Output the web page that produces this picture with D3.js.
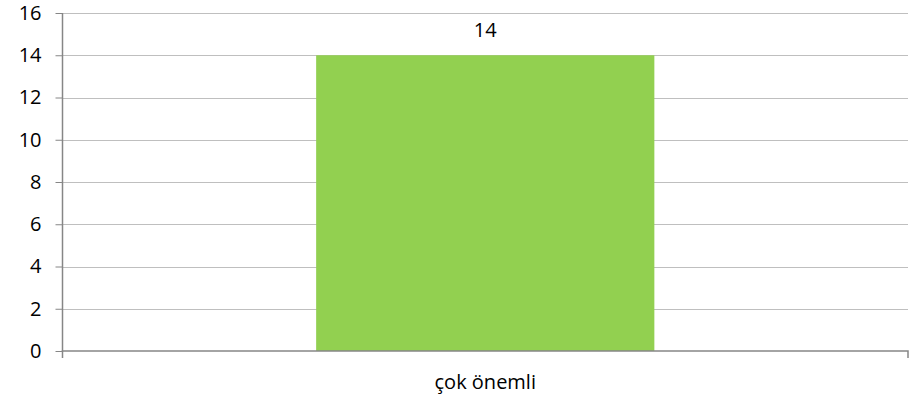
<!DOCTYPE html>
<html>
<head>
<meta charset="utf-8">
<script src="https://cdn.jsdelivr.net/npm/d3@7"></script>
<style>
  body { margin: 0; background: #fff; }
  svg text { font-family: 'Open Sans', sans-serif; font-size: 20px; fill: #000; }
</style>
</head>
<body>
<svg width="919" height="400"></svg>
<script>
'use strict'

const categories = ['çok önemli']
const values = [14]
const yTicks = [0, 2, 4, 6, 8, 10, 12, 14, 16]

const margin = { top: 13, right: 11, bottom: 49, left: 62.5 }
const width = 919 - margin.left - margin.right,
  height = 400 - margin.top - margin.bottom

const svg = d3.select('svg')
const g = svg.append('g')
  .attr('transform', 'translate(' + margin.left + ',' + margin.top + ')')

const y = d3.scaleLinear().domain([0, 16]).range([height, 0])
const p = 0.6 / 1.4
const x = d3.scaleBand().domain(categories).range([0, width])
  .paddingInner(p).paddingOuter(p)

// gridlines
g.append('g')
  .selectAll('line')
  .data(yTicks.filter(d => d > 0))
  .enter()
  .append('line')
  .attr('x1', 0)
  .attr('x2', width)
  .attr('y1', d => Math.round(y(d)) + 0.5)
  .attr('y2', d => Math.round(y(d)) + 0.5)
  .attr('stroke', '#bfbfbf')
  .attr('stroke-width', 1)

// bars
g.append('g')
  .selectAll('rect')
  .data(values)
  .enter()
  .append('rect')
  .attr('x', (d, i) => x(categories[i]))
  .attr('y', d => y(d))
  .attr('width', x.bandwidth())
  .attr('height', d => height - y(d))
  .style('fill', '#92d050')

// value labels
g.append('g')
  .selectAll('text')
  .data(values)
  .enter()
  .append('text')
  .attr('x', (d, i) => x(categories[i]) + x.bandwidth() / 2)
  .attr('y', d => y(d) - 18)
  .attr('text-anchor', 'middle')
  .text(d => d)

// y axis
const yAxis = g.append('g')
  .call(d3.axisLeft(y).tickValues(yTicks).tickSize(7).tickPadding(14))
yAxis.attr('font-family', null).attr('font-size', null)
yAxis.select('.domain').attr('stroke', '#868686').attr('stroke-width', 1.5)
  .attr('d', 'M0,' + (height + 0.5) + 'V' + 0)
yAxis.selectAll('.tick line').attr('stroke', '#868686')

// x axis
const xAxis = g.append('g')
  .attr('transform', 'translate(0,' + height + ')')
  .call(d3.axisBottom(x).tickSize(0).tickPadding(24))
xAxis.attr('font-family', null).attr('font-size', null)
xAxis.select('.domain').attr('stroke', '#868686').attr('stroke-width', 1.5)
  .attr('d', 'M0,7V0H' + width + 'V7')
</script>
</body>
</html>
